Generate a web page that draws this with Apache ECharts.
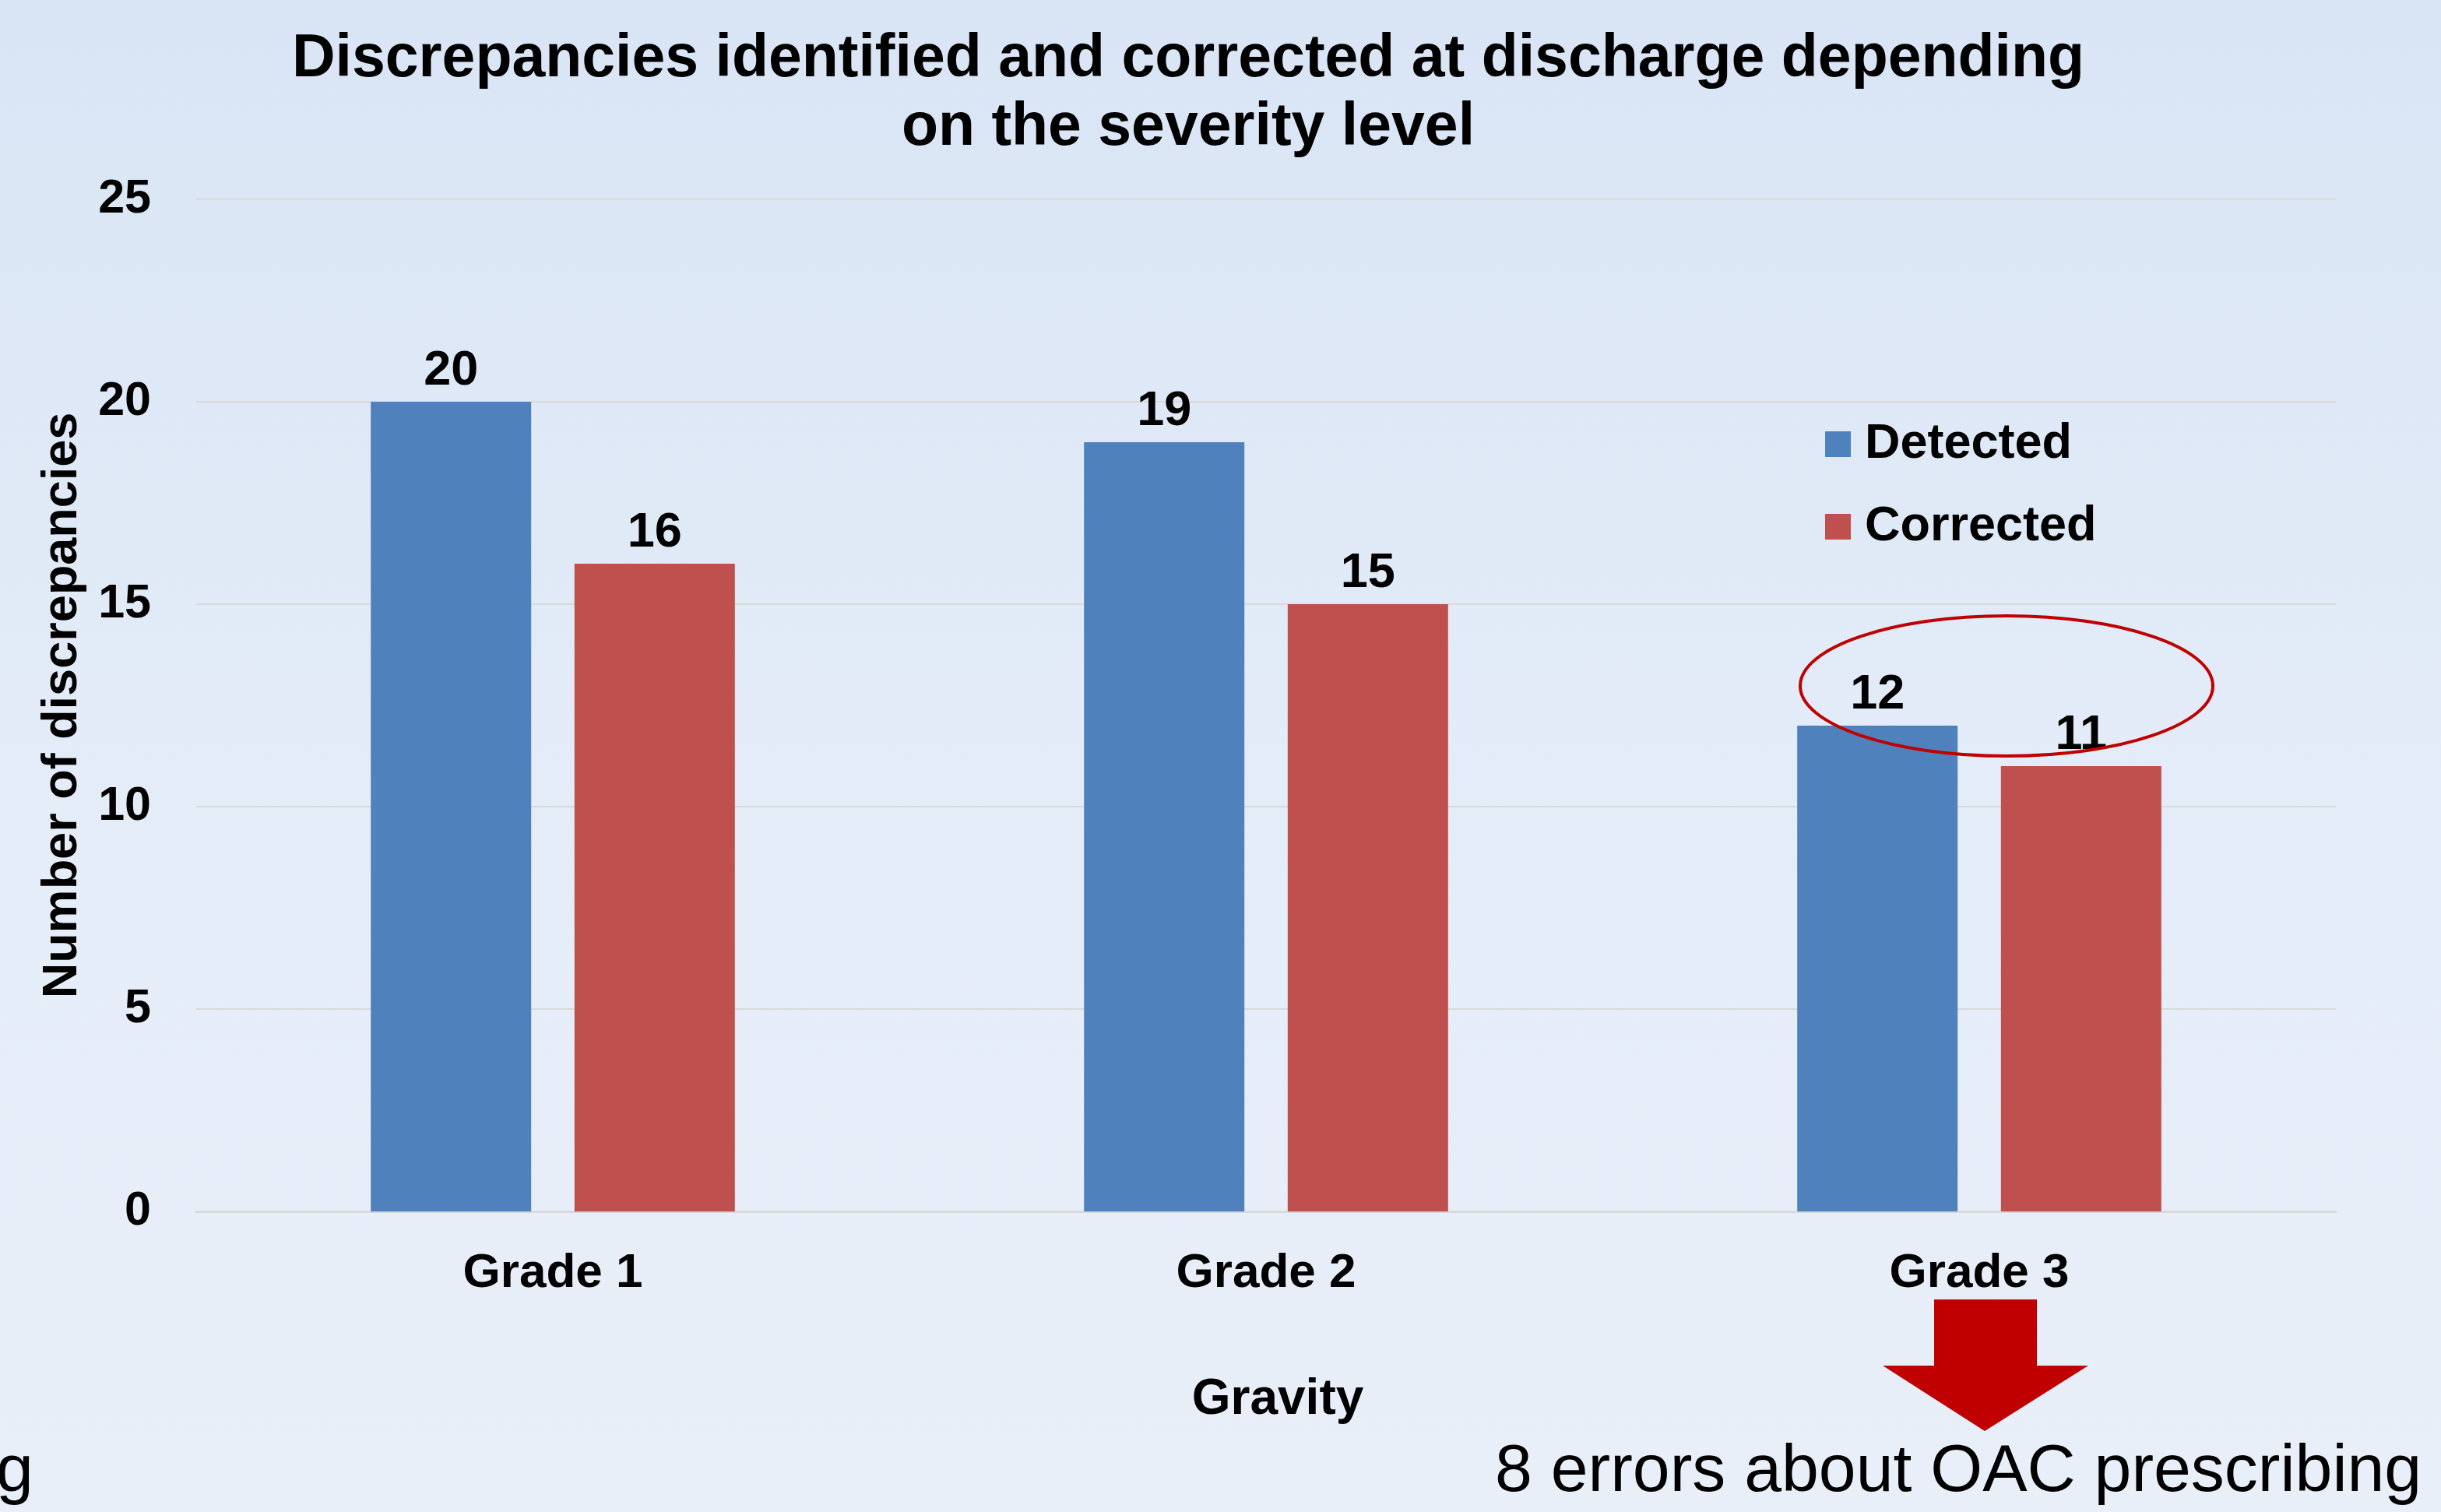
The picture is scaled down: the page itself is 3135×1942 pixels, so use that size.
<!DOCTYPE html>
<html>
<head>
<meta charset="utf-8">
<script src="https://cdn.jsdelivr.net/npm/echarts@6/dist/echarts.min.js"></script>
<style>
  html, body { margin: 0; padding: 0; }
  #chart { width: 3135px; height: 1942px; background: linear-gradient(to bottom, #d9e5f5 0%, #e5edf8 60%, #e9eff9 100%); }
</style>
</head>
<body>
<div id="chart"></div>
<script>
const categories = ['Grade 1', 'Grade 2', 'Grade 3'];
const detected = [20, 19, 12];
const corrected = [16, 15, 11];
const seriesNames = ['Detected', 'Corrected'];
const yTicks = { min: 0, max: 25, interval: 5 };
const titleText = 'Discrepancies identified and corrected at discharge depending\non the severity level';
const noteText = '8 errors about OAC prescribing';

const FONT = "'Liberation Sans', Arial, Helvetica, sans-serif";
const chart = echarts.init(document.getElementById('chart'), null, { renderer: 'canvas' });

const labelStyle = {
  show: true, position: 'top', distance: 8,
  fontFamily: FONT, fontSize: 63, fontWeight: 'bold', color: '#000'
};

chart.setOption({
  backgroundColor: 'transparent',
  animation: false,
  title: {
    text: titleText,
    left: 1521, top: 28,
    textAlign: 'center',
    textStyle: { fontFamily: FONT, fontSize: 77, fontWeight: 'bold', color: '#000', lineHeight: 88 }
  },
  legend: {
    data: seriesNames,
    orient: 'vertical',
    left: 2344, top: 539,
    padding: 0,
    icon: 'rect',
    itemWidth: 33, itemHeight: 33, itemGap: 43,
    textStyle: { fontFamily: FONT, fontSize: 63, fontWeight: 'bold', color: '#000', lineHeight: 63, padding: [0, 0, 0, 13] }
  },
  grid: { left: 252, right: 135, top: 256, bottom: 386, containLabel: false },
  xAxis: {
    type: 'category',
    data: categories,
    name: 'Gravity',
    nameLocation: 'middle',
    nameGap: 210,
    nameTextStyle: { fontFamily: FONT, fontSize: 64, fontWeight: 'bold', color: '#000', padding: [0, 0, 0, 30] },
    axisLine: { show: true, lineStyle: { color: '#d9d9d9', width: 3 } },
    axisTick: { show: false },
    axisLabel: { margin: 49, fontFamily: FONT, fontSize: 62, fontWeight: 'bold', color: '#000' }
  },
  yAxis: {
    type: 'value',
    min: yTicks.min, max: yTicks.max, interval: yTicks.interval,
    name: 'Number of discrepancies',
    nameLocation: 'middle',
    nameGap: 140,
    nameRotate: 90,
    nameTextStyle: { fontFamily: FONT, fontSize: 63, fontWeight: 'bold', color: '#000' },
    axisLine: { show: false },
    axisTick: { show: false },
    axisLabel: { margin: 58, fontFamily: FONT, fontSize: 61, fontWeight: 'bold', color: '#000' },
    splitLine: { show: true, lineStyle: { color: '#d9d9d9', width: 2 } }
  },
  series: [
    {
      name: seriesNames[0], type: 'bar', data: detected,
      barWidth: 206, barGap: '27%',
      itemStyle: { color: '#4f81bd' },
      label: labelStyle
    },
    {
      name: seriesNames[1], type: 'bar', data: corrected,
      barWidth: 206, barGap: '27%',
      itemStyle: { color: '#c0504d' },
      label: labelStyle
    }
  ],
  graphic: [
    {
      type: 'ellipse',
      shape: { cx: 2577, cy: 881, rx: 265, ry: 90 },
      style: { fill: 'none', stroke: '#c00000', lineWidth: 4 },
      z: 100
    },
    {
      type: 'polygon',
      shape: { points: [[2484, 1669], [2616, 1669], [2616, 1754], [2682, 1754], [2549, 1838], [2418, 1754], [2484, 1754]] },
      style: { fill: '#c00000' },
      z: 100
    },
    {
      type: 'text',
      left: 1920, top: 1848,
      style: { text: noteText, fontFamily: FONT, fontSize: 86, fill: '#000' },
      z: 100
    },
    {
      type: 'text',
      left: -5, top: 1848,
      style: { text: 'g', fontFamily: FONT, fontSize: 86, fill: '#000' },
      z: 100
    }
  ]
});
</script>
</body>
</html>
